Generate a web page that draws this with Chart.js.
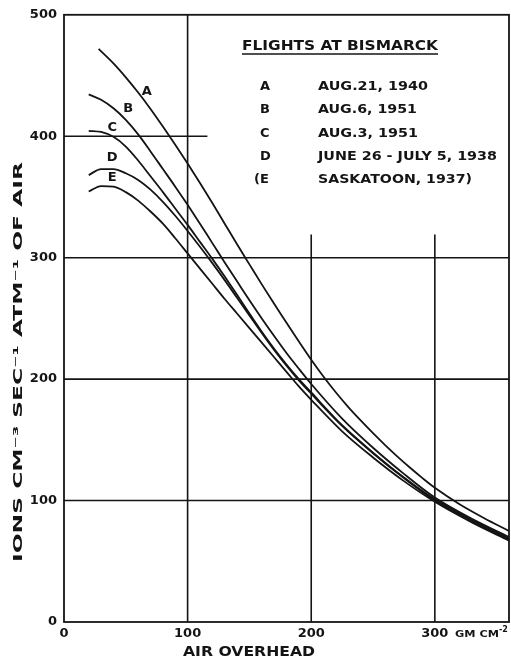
<!DOCTYPE html>
<html>
<head>
<meta charset="utf-8">
<script src="https://cdn.jsdelivr.net/npm/chart.js@4.4.0/dist/chart.umd.min.js"></script>
<style>
    html, body { margin: 0; padding: 0; background: #fff; }
    #wrap { width: 511px; height: 663px; position: relative; }
</style>
</head>
<body>
<div id="wrap"><canvas id="chart"></canvas></div>
<script>
// =============================================================
// DATA
// =============================================================
// curve A starts a little later than the others
const xA = [28, 40, 50, 60, 70, 80, 90, 100, 110, 120, 130, 140, 150, 160, 170, 180, 190, 200, 210, 220, 230, 240, 250, 260, 270, 280, 290, 300, 320, 340, 360];
const yA = [472, 460, 448.5, 436, 422.5, 408, 393, 377.5, 361.5, 345, 328, 311, 294.5, 278, 262, 246.5, 231, 216, 202, 189, 177, 166, 155.5, 145.5, 136, 127, 118.5, 110.5, 97, 85.5, 75];

// curves B..E share the same x positions
const xBE = [20, 30, 40, 50, 60, 70, 80, 90, 100, 110, 120, 130, 140, 150, 160, 170, 180, 190, 200, 225, 250, 275, 300, 330, 360];
const yB  = [434.5, 430, 423, 413.5, 401.5, 387.5, 373, 358.5, 343.5, 328, 312, 296, 280.5, 265, 250, 235.5, 221.5, 208.5, 196, 167.5, 143.5, 122, 102.5, 85, 70];
const yC  = [404.5, 403.5, 399.5, 391.5, 380, 367, 354, 340.5, 327, 313, 299, 284.5, 269.5, 254, 239, 225, 212, 200, 189, 162, 139.5, 119, 101, 84, 69];
const yD  = [368, 373, 373, 369.5, 364, 356, 346, 334.5, 322, 309, 295.5, 281.5, 267, 252.5, 238, 224, 211, 199, 188, 161.5, 139, 118.5, 100, 83, 68];
const yE  = [354.5, 359, 358.5, 354, 347, 338, 328, 316, 303.5, 291, 278.5, 266, 254, 242, 230, 218, 206, 194, 183, 157, 135.5, 116, 99, 82, 67];

const xTicks = [0, 100, 200, 300];
const yTicks = [0, 100, 200, 300, 400, 500];

// curve letters, placed in data units next to each curve
const curveNames  = ["A", "B", "C", "D", "E"];
const curveLabelX = [67, 52, 39, 39, 39];
const curveLabelY = [437, 422.6, 406.7, 382, 365.6];

// legend box
const legendTitle   = "FLIGHTS AT BISMARCK";
const legendLetters = ["A", "B", "C", "D", "(E"];
const legendDates   = ["AUG.21, 1940", "AUG.6, 1951", "AUG.3, 1951", "JUNE 26 - JULY 5, 1938", "SASKATOON, 1937)"];

// grid segments in data units: [value, from, to]
const gridH = [[100, 0, 360], [200, 0, 360], [300, 0, 360], [400, 0, 116]];
const gridV = [[100, 0, 500], [200, 0, 319], [300, 0, 319]];

const INK  = "#141414";
const FONT = "'DejaVu Sans', sans-serif";

const toPoints = (xs, ys) => xs.map((x, i) => ({ x: x, y: ys[i] }));


// =============================================================
// HELPERS
// =============================================================
// draw text stretched/squeezed to a given pixel width
function fitText(ctx, text, x, y, w) {
    const m = ctx.measureText(text).width;
    ctx.save();
    ctx.translate(x, y);
    ctx.scale(w / m, 1);
    ctx.textAlign = "left";
    ctx.fillText(text, 0, 0);
    ctx.restore();
}


// =============================================================
// PLUGIN: partial grid + frame
// =============================================================
const gridPlugin = {
    id: "gridPlugin",
    beforeDatasetsDraw(chart) {
        const { ctx, scales: { x, y } } = chart;
        ctx.save();
        ctx.strokeStyle = INK;
        ctx.lineWidth = 1.6;

        gridH.forEach(([v, a, b]) => {
            ctx.beginPath();
            ctx.moveTo(x.getPixelForValue(a), y.getPixelForValue(v));
            ctx.lineTo(x.getPixelForValue(b), y.getPixelForValue(v));
            ctx.stroke();
        });
        gridV.forEach(([v, a, b]) => {
            ctx.beginPath();
            ctx.moveTo(x.getPixelForValue(v), y.getPixelForValue(a));
            ctx.lineTo(x.getPixelForValue(v), y.getPixelForValue(b));
            ctx.stroke();
        });

        // frame
        ctx.lineWidth = 1.8;
        const l = x.getPixelForValue(0), r = x.getPixelForValue(360);
        const t = y.getPixelForValue(500), bt = y.getPixelForValue(0);
        ctx.strokeRect(l, t, r - l, bt - t);
        ctx.restore();
    }
};


// =============================================================
// PLUGIN: texts (titles, legend, curve letters)
// =============================================================
const textPlugin = {
    id: "textPlugin",
    afterDraw(chart) {
        const { ctx, scales: { x, y } } = chart;
        ctx.save();
        ctx.fillStyle = INK;
        ctx.strokeStyle = INK;
        ctx.textBaseline = "middle";

        // curve letters
        ctx.font = "bold 13px " + FONT;
        curveNames.forEach((n, i) => {
            ctx.textAlign = "center";
            ctx.fillText(n, x.getPixelForValue(curveLabelX[i]), y.getPixelForValue(curveLabelY[i]));
        });

        // legend title + underline
        ctx.font = "bold 14px " + FONT;
        fitText(ctx, legendTitle, 242, 46, 196);
        ctx.lineWidth = 1.4;
        ctx.beginPath();
        ctx.moveTo(242, 54);
        ctx.lineTo(438, 54);
        ctx.stroke();

        // legend rows
        const rowY   = [87, 110, 134, 157, 180];
        const dateW  = [110, 99, 100, 179, 154];
        ctx.font = "bold 13px " + FONT;
        legendLetters.forEach((s, i) => {
            ctx.textAlign = "left";
            const lx = i === 4 ? 254 : 260;
            ctx.fillText(s, lx, rowY[i]);
            fitText(ctx, legendDates[i], 318, rowY[i], dateW[i]);
        });

        // x axis title and unit
        ctx.font = "bold 14px " + FONT;
        fitText(ctx, "AIR OVERHEAD", 183, 652, 132);
        ctx.font = "bold 9px " + FONT;
        fitText(ctx, "GM CM", 455, 635, 44);
        ctx.font = "bold 8px " + FONT;
        ctx.textAlign = "left";
        ctx.fillText("-2", 499, 630);

        // y axis title (rotated)
        ctx.save();
        ctx.translate(19, 562);
        ctx.rotate(-Math.PI / 2);
        ctx.font = "bold 13px " + FONT;
        fitText(ctx, "IONS CM\u207B\u00B3 SEC\u207B\u00B9 ATM\u207B\u00B9 OF AIR", 0, 0, 400);
        ctx.restore();

        ctx.restore();
    }
};


// =============================================================
// CHART
// =============================================================
const lineStyle = {
    borderColor: INK,
    borderWidth: 1.8,
    pointRadius: 0,
    cubicInterpolationMode: "monotone",
    fill: false
};

new Chart(document.getElementById("chart"), {
    type: "line",
    data: {
        datasets: [
            { label: "A", data: toPoints(xA, yA),  ...lineStyle },
            { label: "B", data: toPoints(xBE, yB), ...lineStyle },
            { label: "C", data: toPoints(xBE, yC), ...lineStyle },
            { label: "D", data: toPoints(xBE, yD), ...lineStyle },
            { label: "E", data: toPoints(xBE, yE), ...lineStyle }
        ]
    },
    options: {
        responsive: true,
        maintainAspectRatio: false,
        animation: false,
        layout: { padding: { left: 0, right: 2, top: 13, bottom: 0 } },
        plugins: {
            legend: { display: false },
            tooltip: { enabled: false }
        },
        scales: {
            x: {
                type: "linear",
                min: 0,
                max: 360,
                grid: { display: false, drawTicks: false },
                border: { display: false },
                afterFit: (s) => { s.height = 41; },
                afterBuildTicks: (s) => { s.ticks = xTicks.map(v => ({ value: v })); },
                ticks: {
                    color: INK,
                    padding: 4,
                    font: { family: FONT, size: 13, weight: "bold" }
                }
            },
            y: {
                min: 0,
                max: 500,
                grid: { display: false, drawTicks: false },
                border: { display: false },
                afterFit: (s) => { s.width = 64; },
                afterBuildTicks: (s) => { s.ticks = yTicks.map(v => ({ value: v })); },
                ticks: {
                    color: INK,
                    padding: 7,
                    font: { family: FONT, size: 13, weight: "bold" }
                }
            }
        }
    },
    plugins: [gridPlugin, textPlugin]
});
</script>
</body>
</html>
